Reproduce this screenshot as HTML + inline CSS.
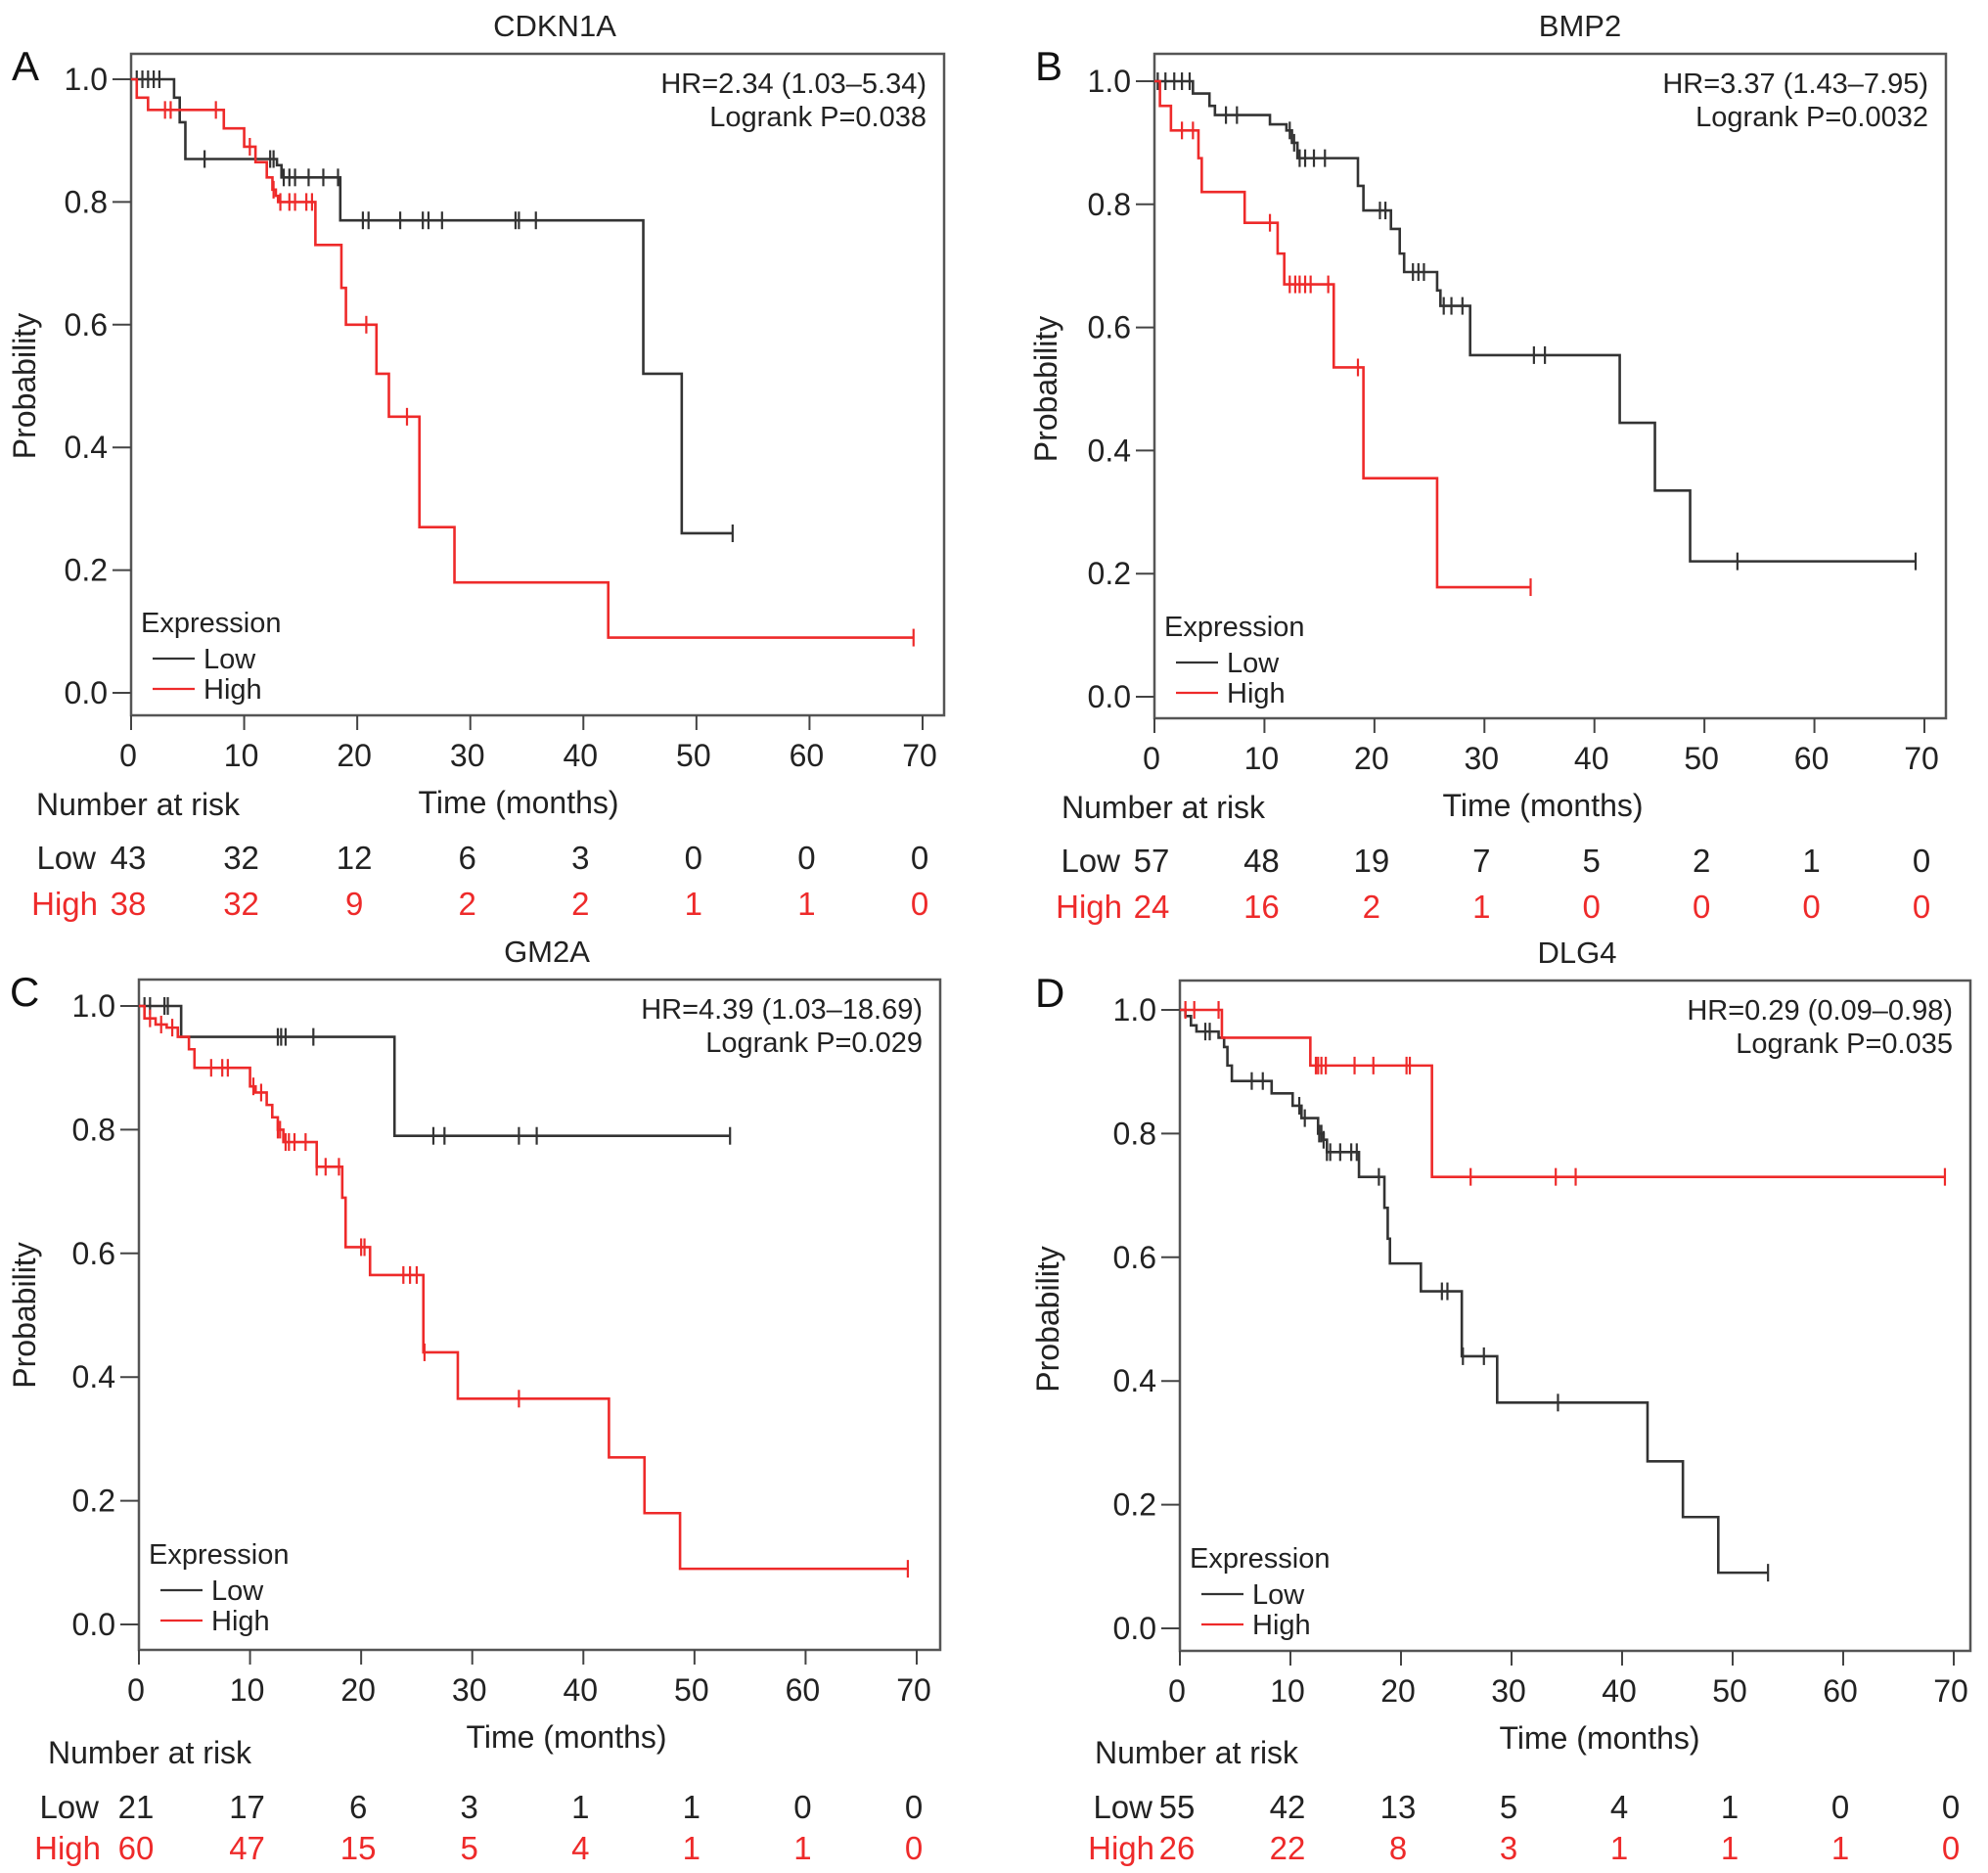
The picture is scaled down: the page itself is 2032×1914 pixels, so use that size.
<!DOCTYPE html>
<html><head><meta charset="utf-8"><style>
html,body{margin:0;padding:0;background:#fff;}
svg{display:block;font-family:"Liberation Sans",Arial,sans-serif;}
</style></head><body>
<svg id="fig" width="2032" height="1914" viewBox="0 0 2032 1914" xmlns="http://www.w3.org/2000/svg"></svg>
<script>
// ---- data arrays (top level) ----
const xTicks = [0,10,20,30,40,50,60,70];
const yTicks = [0.0,0.2,0.4,0.6,0.8,1.0];
const yTickLabels = ["0.0","0.2","0.4","0.6","0.8","1.0"];

// Panel A: CDKN1A
const aLowT = [3.8,4.3,4.8,12.9,13.3,18.5,45.3,48.7];
const aLowS = [0.97,0.93,0.87,0.86,0.84,0.77,0.52,0.26];
const aLowC = [0.5,1,1.5,2,2.5,6.5,12.3,12.6,13.5,14,14.5,15.7,17,18.3,20.5,21,23.8,25.8,26.3,27.5,34,34.3,35.8,53.2];
const aHighT = [0.5,1.5,8.2,10,11,12,12.5,12.8,13,16.3,18.6,19,21.7,22.8,25.5,28.6,42.2];
const aHighS = [0.97,0.95,0.92,0.89,0.865,0.84,0.82,0.81,0.80,0.73,0.66,0.60,0.52,0.45,0.27,0.18,0.09];
const aHighC = [3,3.5,7.5,10.5,12.6,13.2,14,14.5,15.5,16,20.8,24.4,69.2];
const aRiskLow = [43,32,12,6,3,0,0,0];
const aRiskHigh = [38,32,9,2,2,1,1,0];

// Panel B: BMP2
const bLowT = [3.5,5,5.5,10.5,12,12.5,13,18.5,19,21.5,22.3,22.7,25.7,26,28.7,42.3,45.5,48.7];
const bLowS = [0.98,0.96,0.945,0.93,0.92,0.90,0.875,0.83,0.79,0.76,0.72,0.69,0.66,0.635,0.555,0.445,0.335,0.22];
const bLowC = [0.3,1,1.8,2.5,3.2,6.5,7.5,12.3,12.7,13.2,13.7,14.5,15.5,20.5,21,23.5,24,24.5,26.3,27,28,34.5,35.5,53,69.2];
const bHighT = [0.5,1.5,4,4.3,8.2,11.2,11.8,16.3,19,25.7];
const bHighS = [0.96,0.92,0.875,0.82,0.77,0.72,0.67,0.535,0.355,0.178];
const bHighC = [2.5,3.5,10.5,12.3,12.8,13.2,13.7,14.2,15.8,18.5,34.2];
const bRiskLow = [57,48,19,7,5,2,1,0];
const bRiskHigh = [24,16,2,1,0,0,0,0];

// Panel C: GM2A
const cLowT = [3.8,23];
const cLowS = [0.95,0.79];
const cLowC = [0.5,1,2.3,2.6,12.5,12.8,13.2,15.7,26.5,27.5,34.2,35.8,53.2];
const cHighT = [0.5,1.5,2.5,3.5,4.5,5,10,10.5,11.5,12,12.5,13,16,18.3,18.6,20.8,25.6,28.7,42.3,45.5,48.7];
const cHighS = [0.98,0.97,0.965,0.95,0.93,0.90,0.87,0.86,0.84,0.82,0.80,0.78,0.74,0.69,0.61,0.565,0.44,0.365,0.27,0.18,0.09];
const cHighC = [1,2,3,6.5,7.5,8,10.3,11,12.5,12.7,13.2,13.5,14,15,16,16.8,18,20,20.3,23.8,24.4,25,25.7,34.2,69.2];
const cRiskLow = [21,17,6,3,1,1,0,0];
const cRiskHigh = [60,47,15,5,4,1,1,0];

// Panel D: DLG4
const dLowT = [0.5,1,1.5,3.5,4,4.3,4.7,8.3,10.2,11,12.5,13,13.3,16.2,18.5,18.8,19,21.8,25.5,28.7,42.3,45.5,48.7];
const dLowS = [0.99,0.975,0.965,0.955,0.94,0.91,0.885,0.865,0.845,0.825,0.80,0.79,0.77,0.73,0.68,0.63,0.59,0.545,0.44,0.365,0.27,0.18,0.09];
const dLowC = [2.3,2.7,6.5,7.5,10.8,11.3,12.6,12.8,13,13.3,13.6,14.5,15.5,16,18,23.7,24.2,25.6,27.5,34.2,53.2];
const dHighT = [3.8,11.8,22.8];
const dHighS = [0.955,0.91,0.73];
const dHighC = [0.5,1.3,3.5,12.3,12.5,12.8,13.2,15.8,17.5,20.5,20.8,26.3,34,35.8,69.2];
const dRiskLow = [55,42,13,5,4,1,0,0];
const dRiskHigh = [26,22,8,3,1,1,1,0];

const RED = "#ee2a2a", BLK = "#333333";
const FS = 32;
const svg = document.getElementById('fig');
const NS = "http://www.w3.org/2000/svg";
function mk(tag, attrs, parent){const e=document.createElementNS(NS,tag);for(const k in attrs)e.setAttribute(k,attrs[k]);(parent||svg).appendChild(e);return e;}
function txt(s, attrs, parent){const e=mk('text',attrs,parent);e.textContent=s;return e;}

function panel(p){
  const g = mk('g',{});
  
  
  const sx = t => p.x0 + (p.x70 - p.x0) * t / 70;
  const sy = v => p.y0 + (p.y1 - p.y0) * v;
  const box = mk('rect',{x:p.L,y:p.T,width:p.R-p.L,height:p.B-p.T,fill:'none',stroke:'#555',"stroke-width":2.5},g);
  
  
  const ti = txt(p.title,{x:p.titleX,y:p.T-18,"text-anchor":"middle","font-size":31,fill:'#222'},g);
  
  
  const le = txt(p.letter,{x:p.letterX,y:p.T+27,"font-size":42,fill:'#111'},g);
  
  
  yTicks.forEach((v,i)=>{
    const y = sy(v);
    const tk = mk('line',{x1:p.L-19,x2:p.L,y1:y,y2:y,stroke:'#444',"stroke-width":2},g);
    
    
    const tl = txt(yTickLabels[i],{x:p.L-24,y:y+11,"text-anchor":"end","font-size":FS,fill:'#222'},g);
    
    
  });
  xTicks.forEach(t=>{
    const x = sx(t);
    const tk = mk('line',{x1:x,x2:x,y1:p.B,y2:p.B+15,stroke:'#444',"stroke-width":2},g);
    
    
    const tl = txt(String(t),{x:x-3,y:p.B+52,"text-anchor":"middle","font-size":FS,fill:'#222'},g);
    
    
  });
  const yl = txt('Probability',{x:p.probX,y:(p.y0+p.y1)/2,"text-anchor":"middle","font-size":FS,fill:'#222',transform:`rotate(-90 ${p.probX} ${(p.y0+p.y1)/2})`},g);
  
  
  const xl = txt('Time (months)',{x:p.timeX,y:p.B+100,"text-anchor":"middle","font-size":FS,fill:'#222'},g);
  
  
  const hr = txt(p.hr,{x:p.R-18,y:p.T+40,"text-anchor":"end","font-size":29,fill:'#222'},g);
  
  
  const lr = txt(p.lr,{x:p.R-18,y:p.T+74,"text-anchor":"end","font-size":29,fill:'#222'},g);
  
  
  function curve(T,S,C,color,name){
    const endT = C.length ? Math.max(C[C.length-1], T[T.length-1]) : T[T.length-1];
    let d = `M${sx(0)},${sy(1)}`;
    T.forEach((t,i)=>{ d += ` H${sx(t)} V${sy(S[i])}`; });
    d += ` H${sx(endT)}`;
    const path = mk('path',{d:d,fill:'none',stroke:color,"stroke-width":2.6},g);
    
    
    const sAt = t => { let v=1; T.forEach((tt,i)=>{ if(tt<=t) v=S[i]; }); return v; };
    C.forEach(c=>{
      const x=sx(c), y=sy(sAt(c));
      const m = mk('line',{x1:x,x2:x,y1:y-9,y2:y+9,stroke:color,"stroke-width":2.2},g);
      
      
    });
  }
  curve(p.lowT,p.lowS,p.lowC,BLK,'low');
  curve(p.highT,p.highS,p.highC,RED,'high');
  const ly = p.y0 - 72;
  const lg = mk('g',{},g);
  
  
  txt('Expression',{x:p.L+10,y:ly+10,"font-size":29,fill:'#222'},lg);
  const l1 = mk('line',{x1:p.L+22,x2:p.L+65,y1:ly+37,y2:ly+37,stroke:BLK,"stroke-width":2.2},lg);
  
  
  txt('Low',{x:p.L+74,y:ly+47,"font-size":29,fill:'#222'},lg);
  const l2 = mk('line',{x1:p.L+22,x2:p.L+65,y1:ly+68,y2:ly+68,stroke:RED,"stroke-width":2.2},lg);
  
  
  txt('High',{x:p.L+74,y:ly+78,"font-size":29,fill:'#222'},lg);
  const rt = mk('g',{},g);
  
  
  txt('Number at risk',{x:p.narX,y:p.narY,"font-size":FS,fill:'#222'},rt);
  txt('Low',{x:p.rowLabX,y:p.lowY,"text-anchor":"end","font-size":33,fill:'#222'},rt);
  txt('High',{x:p.rowLabX+2,y:p.highY,"text-anchor":"end","font-size":33,fill:RED},rt);
  xTicks.forEach((t,i)=>{
    const a = txt(String(p.riskLow[i]),{x:sx(t)-3,y:p.lowY,"text-anchor":"middle","font-size":33,fill:'#222'},rt);
    
    
    const b = txt(String(p.riskHigh[i]),{x:sx(t)-3,y:p.highY,"text-anchor":"middle","font-size":33,fill:RED},rt);
    
    
  });
}

panel({letter:'A',title:'CDKN1A',L:134,R:965,T:55,B:731,x0:134,x70:943,y1:81,y0:708,
  titleX:567,letterX:12,probX:36,timeX:530,hr:'HR=2.34 (1.03–5.34)',lr:'Logrank P=0.038',
  narX:37,narY:833,lowY:888,highY:935,rowLabX:98,
  lowT:aLowT,lowS:aLowS,lowC:aLowC,highT:aHighT,highS:aHighS,highC:aHighC,riskLow:aRiskLow,riskHigh:aRiskHigh});
panel({letter:'B',title:'BMP2',L:1180,R:1989,T:55,B:734,x0:1180,x70:1967,y1:83,y0:712,
  titleX:1615,letterX:1058,probX:1080,timeX:1577,hr:'HR=3.37 (1.43–7.95)',lr:'Logrank P=0.0032',
  narX:1085,narY:836,lowY:891,highY:938,rowLabX:1145,
  lowT:bLowT,lowS:bLowS,lowC:bLowC,highT:bHighT,highS:bHighS,highC:bHighC,riskLow:bRiskLow,riskHigh:bRiskHigh});
panel({letter:'C',title:'GM2A',L:142,R:961,T:1001,B:1686,x0:142,x70:937,y1:1028,y0:1660,
  titleX:559,letterX:10,probX:36,timeX:579,hr:'HR=4.39 (1.03–18.69)',lr:'Logrank P=0.029',
  narX:49,narY:1802,lowY:1858,highY:1900,rowLabX:101,
  lowT:cLowT,lowS:cLowS,lowC:cLowC,highT:cHighT,highS:cHighS,highC:cHighC,riskLow:cRiskLow,riskHigh:cRiskHigh});
panel({letter:'D',title:'DLG4',L:1206,R:2014,T:1002,B:1687,x0:1206,x70:1997,y1:1032,y0:1664,
  titleX:1612,letterX:1058,probX:1082,timeX:1635,hr:'HR=0.29 (0.09–0.98)',lr:'Logrank P=0.035',
  narX:1119,narY:1802,lowY:1858,highY:1900,rowLabX:1178,
  lowT:dLowT,lowS:dLowS,lowC:dLowC,highT:dHighT,highS:dHighS,highC:dHighC,riskLow:dRiskLow,riskHigh:dRiskHigh});
</script>
</body></html>
